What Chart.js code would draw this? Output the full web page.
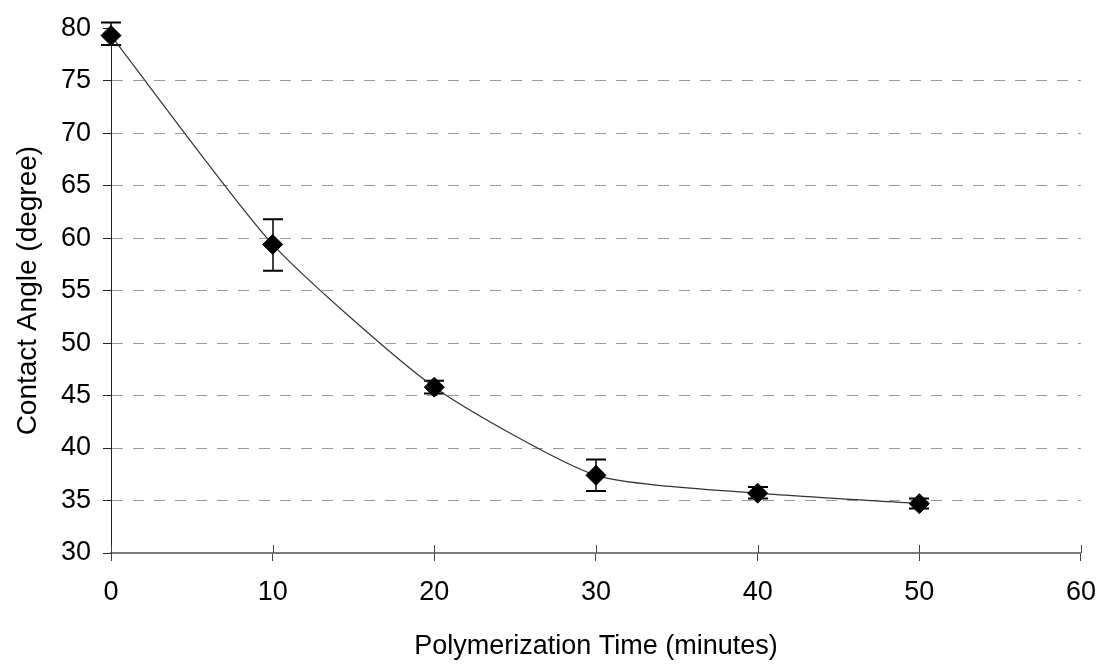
<!DOCTYPE html>
<html>
<head>
<meta charset="utf-8">
<script src="https://cdn.jsdelivr.net/npm/chart.js@4.4.1/dist/chart.umd.min.js"></script>
<style>
  html, body { margin: 0; padding: 0; background: #fff; }
  #wrap { width: 1111px; height: 669px; }
</style>
</head>
<body>
<div id="wrap"><canvas id="chart" width="1111" height="669"></canvas></div>
<script>
// polymerization time (min) vs. water contact angle (deg), with min/max error
const times = [0, 10, 20, 30, 40, 50];
const angles = [79.3, 59.4, 45.8, 37.4, 35.7, 34.7];
const errLow = [78.4, 56.9, 45.2, 35.9, 35.2, 34.25];
const errHigh = [80.55, 61.8, 46.4, 38.9, 36.3, 35.2];

const FONT = "'Liberation Sans', Arial, sans-serif";

// vertical error bars with caps, drawn under the markers
const errorBars = {
    id: 'errorBars',
    beforeDatasetsDraw(chart) {
        const { ctx, scales: { x, y } } = chart;
        ctx.save();
        ctx.strokeStyle = '#000';
        times.forEach((t, i) => {
            const px = Math.round(x.getPixelForValue(t));
            const top = y.getPixelForValue(errHigh[i]);
            const bot = y.getPixelForValue(errLow[i]);
            ctx.lineWidth = 1.5;
            ctx.beginPath();
            ctx.moveTo(px, top);
            ctx.lineTo(px, bot);
            ctx.stroke();
            ctx.lineWidth = 2;
            ctx.beginPath();
            ctx.moveTo(px - 10, top);
            ctx.lineTo(px + 10, top);
            ctx.moveTo(px - 10, bot);
            ctx.lineTo(px + 10, bot);
            ctx.stroke();
        });
        ctx.restore();
    }
};

// x tick marks also poke up into the plot area
const innerTicks = {
    id: 'innerTicks',
    afterDraw(chart) {
        const { ctx, scales: { x } } = chart;
        ctx.save();
        ctx.strokeStyle = '#444';
        ctx.lineWidth = 1;
        x.ticks.forEach(tk => {
            const px = Math.round(x.getPixelForValue(tk.value)) + 0.5;
            ctx.beginPath();
            ctx.moveTo(px, x.top);
            ctx.lineTo(px, x.top - 8);
            ctx.stroke();
        });
        ctx.restore();
    }
};

new Chart(document.getElementById('chart').getContext('2d'), {
    type: 'line',
    data: {
        datasets: [{
            data: times.map((t, i) => ({ x: t, y: angles[i] })),
            borderColor: '#333',
            borderWidth: 1.2,
            tension: 0.2,
            pointStyle: 'rectRot',
            pointRadius: 10,
            pointBorderWidth: 1,
            pointBackgroundColor: '#000',
            pointBorderColor: '#000',
            clip: false
        }]
    },
    options: {
        responsive: false,
        animation: false,
        layout: { padding: { top: 23, right: 29, left: 0, bottom: 0 } },
        plugins: {
            legend: { display: false },
            tooltip: { enabled: false }
        },
        scales: {
            x: {
                type: 'linear',
                min: 0,
                max: 60,
                afterFit(scale) { scale.height = 116; },
                ticks: {
                    stepSize: 10,
                    color: '#000',
                    padding: 15,
                    maxRotation: 0,
                    font: { family: FONT, size: 27 }
                },
                grid: {
                    drawOnChartArea: false,
                    tickLength: 8,
                    tickColor: '#444'
                },
                border: { color: '#7a7a7a', width: 2 },
                title: {
                    display: true,
                    text: 'Polymerization Time (minutes)',
                    color: '#000',
                    padding: { top: 0, bottom: 6 },
                    font: { family: FONT, size: 27 }
                }
            },
            y: {
                min: 30,
                max: 80,
                afterFit(scale) { scale.width = 111; },
                ticks: {
                    stepSize: 5,
                    color: '#000',
                    padding: 12,
                    font: { family: FONT, size: 27 }
                },
                grid: {
                    color: ctx => (ctx.tick && (ctx.tick.value === 30 || ctx.tick.value === 80)) ? 'rgba(0,0,0,0)' : '#9a9a9a',
                    lineWidth: 1,
                    tickLength: 8,
                    tickColor: '#222'
                },
                border: { color: '#222', width: 1, dash: [11, 10] },
                title: {
                    display: true,
                    text: 'Contact Angle (degree)',
                    color: '#000',
                    padding: { top: 11, bottom: 0 },
                    font: { family: FONT, size: 28 }
                }
            }
        }
    },
    plugins: [errorBars, innerTicks]
});
</script>
</body>
</html>
